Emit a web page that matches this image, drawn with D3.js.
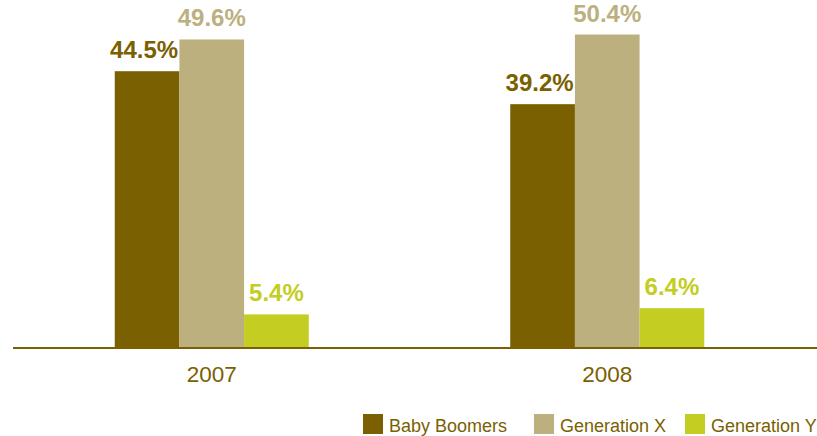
<!DOCTYPE html>
<meta charset="utf-8">
<style>
html, body { margin: 0; padding: 0; background: #fff; }
svg { display: block; font-family: "Liberation Sans", Arial, Helvetica, sans-serif; }
</style>
<body>
<script src="https://d3js.org/d3.v7.min.js"></script>
<script>

var width = 817,
    height = 436;

var years = ["2007", "2008"];
var series = ["Baby Boomers", "Generation X", "Generation Y"];
var boomers = [44.5, 39.2];
var genX = [49.6, 50.4];
var genY = [5.4, 6.4];
var colors = ["#7a6000", "#bcb07f", "#c3cd22"];

var values = [boomers, genX, genY];
var data = [];
years.forEach(function(y, i){
  series.forEach(function(s, j){
    data.push({year: y, series: s, value: values[j][i]});
  });
});

var svg = d3.select("body").append("svg")
  .attr("width", width)
  .attr("height", height);

var baseY = 348;

var x = d3.scaleBand().domain(years).range([14, 805]);
var xs = d3.scaleBand().domain(series).range([-97, 97]);
var y = d3.scaleLinear().domain([0, 50]).range([baseY, baseY - 311]);
var color = d3.scaleOrdinal().domain(series).range(colors);

// bars
svg.append("g").selectAll("rect")
  .data(data)
  .enter().append("rect")
  .attr("x", function(d){ return x(d.year) + x.bandwidth() / 2 + xs(d.series); })
  .attr("width", xs.bandwidth())
  .attr("y", function(d){ return y(d.value); })
  .attr("height", function(d){ return baseY - y(d.value); })
  .attr("fill", function(d){ return color(d.series); });

// value labels
svg.append("g").selectAll("text")
  .data(data)
  .enter().append("text")
  .attr("x", function(d){
    var off = d.series == series[0] ? -3 : 0;
    return x(d.year) + x.bandwidth() / 2 + xs(d.series) + xs.bandwidth() / 2 + off;
  })
  .attr("y", function(d){ return y(d.value) - 13; })
  .attr("text-anchor", "middle")
  .attr("font-size", 24)
  .attr("font-weight", "bold")
  .attr("fill", function(d){ return color(d.series); })
  .text(function(d){ return d.value.toFixed(1) + "%"; });

// axis
var axis = svg.append("g")
  .attr("transform", "translate(0," + baseY + ")")
  .call(d3.axisBottom(x).tickSize(0).tickPadding(18));
axis.select(".domain")
  .attr("d", "M13,0H817")
  .attr("stroke", "#7a6000")
  .attr("stroke-width", 2);
axis.selectAll(".tick text")
  .attr("font-size", 22.5)
  .attr("font-family", "Liberation Sans, Arial, sans-serif")
  .attr("fill", "#7a6000");

// legend
var legendX = [363, 534, 685];
var legend = svg.append("g").selectAll("g")
  .data(series)
  .enter().append("g")
  .attr("transform", function(d, i){ return "translate(" + legendX[i] + ",414)"; });
legend.append("rect")
  .attr("width", 20)
  .attr("height", 20)
  .attr("fill", function(d){ return color(d); });
legend.append("text")
  .attr("x", 26)
  .attr("y", 17.5)
  .attr("font-size", 18)
  .attr("fill", "#7a6000")
  .text(function(d){ return d; });

</script>
</body>
